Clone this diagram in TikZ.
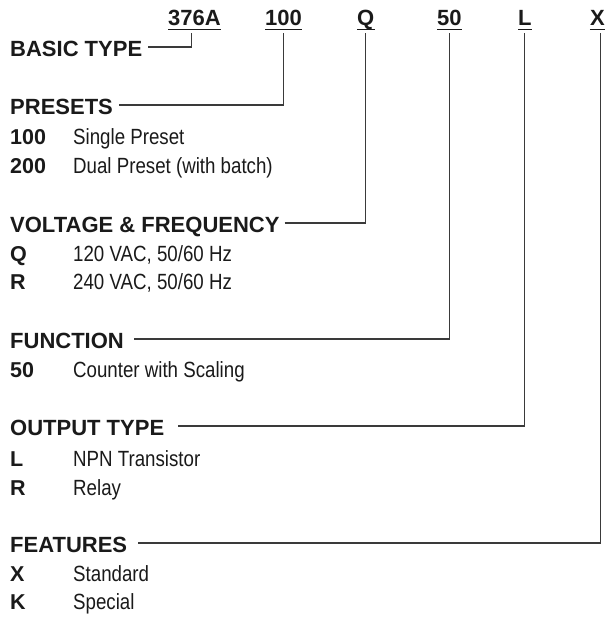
\documentclass[tikz,border=0pt]{standalone}
\usepackage{fontspec}
\setmainfont{Liberation Sans}
\newfontfamily\narrowfont[FakeStretch=0.85]{Liberation Sans}
\usetikzlibrary{calc}
\definecolor{ink}{HTML}{1A1A1A}
\definecolor{wire}{HTML}{3A3A3A}
\tikzset{
  head/.style={inner sep=0pt, anchor=base west, text=ink, font=\bfseries\fontsize{22}{26}\selectfont},
  codetop/.style={inner sep=0pt, anchor=base west, text=ink, font=\bfseries\fontsize{22}{26}\selectfont},
  keyc/.style={inner sep=0pt, anchor=base west, text=ink, font=\bfseries\fontsize{21.5}{26}\selectfont},
  desc/.style={inner sep=0pt, anchor=base west, text=ink, font=\narrowfont\fontsize{22}{26}\selectfont},
  conn/.style={draw=wire, line width=1.1pt},
  uline/.style={draw=ink, line width=1pt}
}
\begin{document}
\begin{tikzpicture}[x=1pt,y=-1pt]
\useasboundingbox[fill=white] (0,0) rectangle (605,622);
% top code
\node[codetop] (c1) at (168,25) {376A};
\node[codetop] (c2) at (265,25) {100};
\node[codetop] (c3) at (357,25) {Q};
\node[codetop] (c4) at (437,25) {50};
\node[codetop] (c5) at (518,25) {L};
\node[codetop, anchor=base east] (c6) at (605,25) {X};
\foreach \n in {c1,c2,c3,c4,c5,c6}
  \draw[uline] ([yshift=-4pt]\n.base west) -- ([yshift=-4pt]\n.base east);
% headings
\node[head] (h1) at (10,56) {BASIC TYPE};
\node[head] (h2) at (10,114) {PRESETS};
\node[head] (h3) at (10,232) {VOLTAGE \& FREQUENCY};
\node[head] (h4) at (10,348) {FUNCTION};
\node[head] (h5) at (10,435) {OUTPUT TYPE};
\node[head] (h6) at (10,552) {FEATURES};
% options
\node[keyc] (k21) at (10,144) {100};
\node[desc] (d21) at (73,144) {Single Preset};
\node[keyc] (k22) at (10,173) {200};
\node[desc] (d22) at (73,173) {Dual Preset (with batch)};
\node[keyc] (k31) at (10,261) {Q};
\node[desc] (d31) at (73,261) {120 VAC, 50/60 Hz};
\node[keyc] (k32) at (10,289) {R};
\node[desc] (d32) at (73,289) {240 VAC, 50/60 Hz};
\node[keyc] (k41) at (10,377) {50};
\node[desc] (d41) at (73,377) {Counter with Scaling};
\node[keyc] (k51) at (10,466) {L};
\node[desc] (d51) at (73,466) {NPN Transistor};
\node[keyc] (k52) at (10,495) {R};
\node[desc] (d52) at (73,495) {Relay};
\node[keyc] (k61) at (10,581) {X};
\node[desc] (d61) at (73,581) {Standard};
\node[keyc] (k62) at (10,609) {K};
\node[desc] (d62) at (73,609) {Special};
% connectors
\draw[conn] ([xshift=6pt,yshift=9pt]h1.base east) -| ([xshift=-3pt,yshift=-8pt]c1.base);
\draw[conn] ([xshift=6pt,yshift=9pt]h2.base east) -| ([yshift=-8pt]c2.base);
\draw[conn] ([xshift=5pt,yshift=9pt]h3.base east) -| ([yshift=-8pt]c3.base);
\draw[conn] ([xshift=10pt,yshift=9pt]h4.base east) -| ([yshift=-8pt]c4.base);
\draw[conn] ([xshift=14pt,yshift=9pt]h5.base east) -| ([yshift=-8pt]c5.base);
\draw[conn] ([xshift=11pt,yshift=9pt]h6.base east) -| ([xshift=3pt,yshift=-8pt]c6.base);
\end{tikzpicture}
\end{document}
